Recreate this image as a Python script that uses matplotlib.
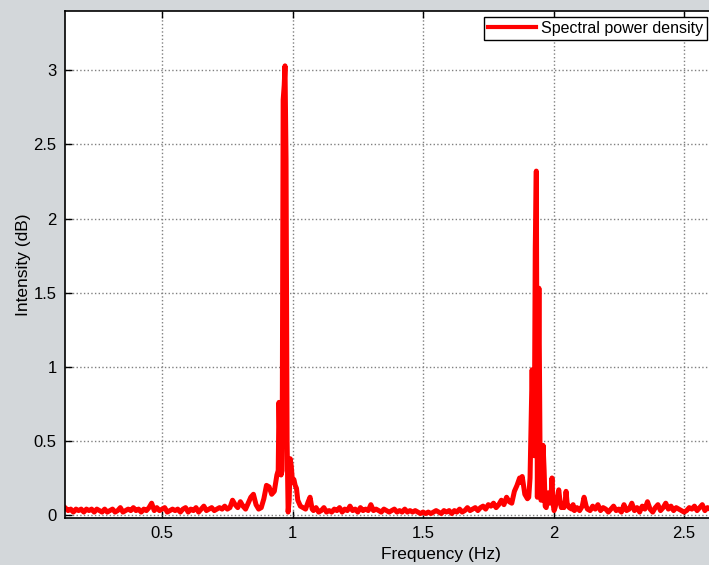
import matplotlib
matplotlib.use("Agg")
import matplotlib.pyplot as plt

# frequency (Hz) and intensity (dB)
freq = [
    0.128, 0.14, 0.15, 0.16, 0.17, 0.18, 0.19, 0.20, 0.21, 0.22, 0.23, 0.24, 0.25, 0.26, 0.27, 0.28, 0.29,
    0.30, 0.31, 0.32, 0.33, 0.34, 0.35, 0.36, 0.37, 0.38, 0.39, 0.40, 0.41, 0.42, 0.43, 0.44, 0.45, 0.46,
    0.47, 0.48, 0.49, 0.50, 0.51, 0.52, 0.53, 0.54, 0.55, 0.56, 0.57, 0.58, 0.59, 0.60, 0.61, 0.62, 0.63,
    0.64, 0.65, 0.66, 0.67, 0.68, 0.69, 0.70, 0.71, 0.72, 0.73, 0.74, 0.75, 0.76, 0.77, 0.78, 0.79, 0.80,
    0.81, 0.82, 0.83, 0.84, 0.85, 0.86, 0.87, 0.88, 0.89, 0.90, 0.91, 0.92, 0.93, 0.94, 0.945, 0.948,
    0.952, 0.956, 0.960, 0.964, 0.968, 0.971, 0.975, 0.979, 0.983, 0.987, 0.991, 0.995, 1.000, 1.005,
    1.01, 1.015, 1.02, 1.03, 1.04, 1.05, 1.06, 1.067, 1.075, 1.08, 1.09, 1.10, 1.11, 1.12, 1.13, 1.14,
    1.15, 1.16, 1.17, 1.18, 1.19, 1.20, 1.21, 1.22, 1.23, 1.24, 1.25, 1.26, 1.27, 1.28, 1.29, 1.30, 1.31,
    1.32, 1.33, 1.34, 1.35, 1.36, 1.37, 1.38, 1.39, 1.40, 1.41, 1.42, 1.43, 1.44, 1.45, 1.46, 1.47, 1.48,
    1.49, 1.50, 1.51, 1.52, 1.53, 1.54, 1.55, 1.56, 1.57, 1.58, 1.59, 1.60, 1.61, 1.62, 1.63, 1.64, 1.65,
    1.66, 1.67, 1.68, 1.69, 1.70, 1.71, 1.72, 1.73, 1.74, 1.75, 1.76, 1.77, 1.78, 1.79, 1.80, 1.81, 1.82,
    1.83, 1.84, 1.85, 1.86, 1.87, 1.875, 1.88, 1.89, 1.90, 1.905, 1.91, 1.918, 1.922, 1.926, 1.930, 1.934,
    1.938, 1.941, 1.944, 1.948, 1.952, 1.956, 1.960, 1.964, 1.968, 1.972, 1.976, 1.980, 1.985, 1.990,
    1.994, 1.998, 2.002, 2.006, 2.010, 2.015, 2.020, 2.025, 2.03, 2.035, 2.04, 2.045, 2.048, 2.052, 2.06,
    2.07, 2.075, 2.08, 2.09, 2.10, 2.11, 2.117, 2.125, 2.13, 2.14, 2.15, 2.16, 2.17, 2.18, 2.19, 2.20,
    2.21, 2.22, 2.23, 2.24, 2.25, 2.26, 2.27, 2.28, 2.29, 2.30, 2.31, 2.32, 2.33, 2.34, 2.35, 2.36, 2.37,
    2.38, 2.39, 2.40, 2.41, 2.42, 2.43, 2.44, 2.45, 2.46, 2.47, 2.48, 2.49, 2.50, 2.51, 2.52, 2.53, 2.54,
    2.55, 2.56, 2.57, 2.58, 2.59, 2.60, 2.61, 2.62, 2.63, 2.64, 2.65, 2.66, 2.67,
]
intensity = [
    0.05, 0.03, 0.04, 0.02, 0.04, 0.03, 0.04, 0.02, 0.04, 0.03, 0.04, 0.02, 0.04, 0.03, 0.02, 0.04, 0.02,
    0.03, 0.04, 0.02, 0.03, 0.05, 0.02, 0.03, 0.04, 0.03, 0.05, 0.03, 0.04, 0.02, 0.04, 0.03, 0.05, 0.08,
    0.03, 0.05, 0.03, 0.04, 0.05, 0.02, 0.03, 0.04, 0.03, 0.04, 0.02, 0.04, 0.05, 0.02, 0.04, 0.03, 0.05,
    0.02, 0.04, 0.06, 0.03, 0.04, 0.05, 0.03, 0.04, 0.05, 0.04, 0.06, 0.04, 0.05, 0.10, 0.07, 0.05, 0.09,
    0.06, 0.04, 0.08, 0.12, 0.14, 0.07, 0.04, 0.05, 0.11, 0.20, 0.19, 0.14, 0.16, 0.27, 0.30, 0.76,
    0.42, 0.27, 0.30, 2.80, 2.90, 3.03, 2.40, 0.50, 0.02, 0.10, 0.38, 0.33, 0.22, 0.24,
    0.20, 0.18, 0.10, 0.06, 0.05, 0.04, 0.09, 0.12, 0.04, 0.03, 0.05, 0.02, 0.03, 0.05, 0.02, 0.03,
    0.02, 0.04, 0.03, 0.05, 0.02, 0.04, 0.03, 0.06, 0.03, 0.04, 0.02, 0.05, 0.03, 0.04, 0.03, 0.07, 0.03,
    0.04, 0.03, 0.02, 0.04, 0.03, 0.02, 0.03, 0.04, 0.02, 0.03, 0.02, 0.04, 0.02, 0.03, 0.02, 0.03, 0.02,
    0.01, 0.02, 0.01, 0.02, 0.01, 0.02, 0.03, 0.02, 0.01, 0.03, 0.02, 0.03, 0.01, 0.03, 0.02, 0.04, 0.02,
    0.03, 0.05, 0.03, 0.04, 0.05, 0.03, 0.05, 0.06, 0.04, 0.07, 0.06, 0.08, 0.05, 0.07, 0.10, 0.07, 0.12,
    0.09, 0.08, 0.16, 0.20, 0.25, 0.22, 0.26, 0.14, 0.11, 0.12, 0.25, 0.98, 0.60, 0.40, 1.80, 2.32,
    0.12, 0.80, 1.53, 0.50, 0.10, 0.10, 0.47, 0.30, 0.06, 0.05, 0.10, 0.15, 0.08, 0.10,
    0.25, 0.08, 0.03, 0.05, 0.08, 0.12, 0.17, 0.09, 0.05, 0.06, 0.05, 0.10, 0.16, 0.08, 0.05,
    0.04, 0.07, 0.03, 0.05, 0.03, 0.06, 0.12, 0.06, 0.04, 0.03, 0.06, 0.04, 0.07, 0.03, 0.05, 0.04,
    0.02, 0.04, 0.06, 0.03, 0.04, 0.02, 0.07, 0.03, 0.04, 0.08, 0.03, 0.05, 0.02, 0.06, 0.04, 0.09, 0.04,
    0.02, 0.05, 0.07, 0.03, 0.05, 0.08, 0.04, 0.06, 0.03, 0.05, 0.04, 0.03, 0.02, 0.03, 0.05, 0.04, 0.06,
    0.03, 0.05, 0.07, 0.03, 0.05, 0.04, 0.06, 0.03, 0.05, 0.04, 0.06, 0.03, 0.05,
]
x_ticks = [0.5, 1, 1.5, 2, 2.5]
x_tick_labels = ["0.5", "1", "1.5", "2", "2.5"]
y_ticks = [0, 0.5, 1, 1.5, 2, 2.5, 3]
y_tick_labels = ["0", "0.5", "1", "1.5", "2", "2.5", "3"]

plt.rcParams["font.family"] = ["Liberation Sans", "DejaVu Sans"]

W, H = 709, 565
fig = plt.figure(figsize=(W / 100, H / 100), dpi=100, facecolor="#d3d7da")
# axes run past the right edge of the picture, as in the cropped reference
left, right, top, bottom = 65, 817, 11, 518
ax = fig.add_axes([left / W, 1 - bottom / H, (right - left) / W, (bottom - top) / H])
ax.set_facecolor("white")

ax.plot(freq, intensity, color="#ff0000", linewidth=3.6, solid_joinstyle="round",
        label="Spectral power density")

ax.set_xlim(0.128, 0.5 + (right - 162) / 261)
ax.set_ylim(-0.02, 3.4)
ax.set_xticks(x_ticks)
ax.set_xticklabels(x_tick_labels)
ax.set_yticks(y_ticks)
ax.set_yticklabels(y_tick_labels)
ax.tick_params(direction="in", length=5, width=1, top=True, right=True,
               labelsize=12, colors="black", pad=6)
ax.grid(True, color="#808080", linestyle=":", linewidth=1)
ax.set_axisbelow(True)
for s in ax.spines.values():
    s.set_linewidth(1.2)
    s.set_color("black")

ax.set_xlabel("Frequency (Hz)", fontsize=12.5, labelpad=4)
ax.set_ylabel("Intensity (dB)", fontsize=12.5, labelpad=1.5)

leg = ax.legend(loc="upper left", bbox_to_anchor=(484 / W, 1 - 17 / H),
                bbox_transform=fig.transFigure, fontsize=11.5, frameon=True,
                fancybox=False, framealpha=1, edgecolor="black", borderpad=0.25,
                handlelength=3.0, handletextpad=0.3, borderaxespad=0)
leg.get_frame().set_linewidth(1)
for line in leg.get_lines():
    line.set_linewidth(3)

fig.savefig("out.png", dpi=100, facecolor=fig.get_facecolor())
